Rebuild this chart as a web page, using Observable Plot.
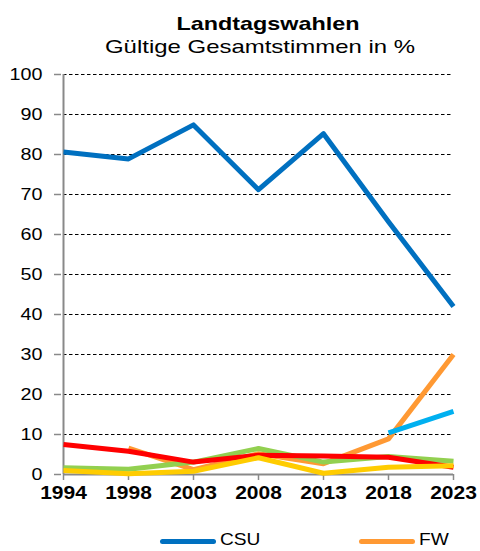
<!DOCTYPE html>
<html><head><meta charset="utf-8">
<script src="https://cdn.jsdelivr.net/npm/d3@7"></script>
<script src="https://cdn.jsdelivr.net/npm/@observablehq/plot@0.6"></script>
<style>
body{margin:0;background:#fff;font-family:"Liberation Sans",Arial,sans-serif;color:#000}
#page{position:relative;width:480px;height:551px;overflow:hidden;background:#fff}
.t{position:absolute;white-space:nowrap;line-height:1}
#chart svg{display:block}
</style></head><body><div id="page">
<div id="head" style="position:relative;height:60px">
<span class="t" style="left:268px;top:14px;font-size:19px;font-weight:bold;transform:translateX(-50%) scaleX(1.23)">Landtagswahlen</span>
<span class="t" style="left:260px;top:36.6px;font-size:19px;transform:translateX(-50%) scaleX(1.26)">Gültige Gesamtstimmen in %</span>
</div>
<div id="chart"></div>
<div id="legend" style="position:relative;height:41px"></div>
</div>
<script>
const years = ["1994", "1998", "2003", "2008", "2013", "2018", "2023"];
const yTicks = [0, 10, 20, 30, 40, 50, 60, 70, 80, 90, 100];
const gridVals = [10, 20, 30, 40, 50, 60, 70, 80, 90, 100];

const csu    = [80.6, 78.9, 87.4, 71.2, 85.2, 63.2, 42.0];
const fw     = [null, 6.6, 1.2, 5.2, 2.7, 8.9, 30.0];
const gruene = [1.7, 1.3, 3.1, 6.5, 3.1, 4.5, 3.3];
const spd    = [7.5, 5.8, 3.1, 4.8, 4.6, 4.3, 1.8];
const fdp    = [1.0, 0.2, 0.8, 4.2, 0.3, 1.8, 2.2];
const afd    = [null, null, null, null, null, 10.4, 15.8];

const partyNames  = ["CSU", "FW", "GRÜNE", "SPD", "FDP", "AfD"];
const partyValues = [csu, fw, gruene, spd, fdp, afd];
const partyColors = ["#0070C0", "#FF9933", "#92D050", "#FF0000", "#FFCC00", "#00B0F0"];

const legendNames = ["CSU", "FW"];

const rows = partyNames.flatMap((p, k) =>
  years.map((y, i) => ({party: p, year: y, value: partyValues[k][i]})).filter(d => d.value != null));

const gray = "#898989";
const chart = Plot.plot({
  width: 480, height: 450,
  marginTop: 14, marginBottom: 36, marginLeft: 61, marginRight: 25,
  style: {fontFamily: "'Liberation Sans', Arial, sans-serif", fontSize: "17px", color: "black", background: "white", overflow: "visible"},
  x: {type: "point", domain: years, padding: 0, label: null},
  y: {domain: [0, 100], label: null},
  color: {domain: partyNames, range: partyColors},
  marks: [
    Plot.ruleY(gridVals, {x1: () => years[0], x2: () => years[years.length - 1], stroke: "black", strokeWidth: 1, strokeDasharray: "3.5,2.5"}),
    Plot.axisY({ticks: yTicks, tickSize: 7, tickPadding: 12, stroke: gray, strokeWidth: 1.5, color: "black", fontSize: 17, label: null}),
    Plot.axisX({tickSize: 6, tickPadding: 6, stroke: gray, strokeWidth: 1.5, color: "black", fontSize: 17.5, fontWeight: "bold", label: null}),
    Plot.ruleX([years[0]], {y1: 0, y2: 100, stroke: gray, strokeWidth: 2}),
    Plot.ruleY([0], {x1: () => years[0], x2: () => years[years.length - 1], stroke: gray, strokeWidth: 2}),
    Plot.line(rows, {x: "year", y: "value", z: "party", stroke: "party", strokeWidth: 5, strokeLinecap: "butt", strokeLinejoin: "round"})
  ]
});
document.getElementById("chart").appendChild(chart);

function stretch(sel, s) {
  chart.querySelectorAll(sel).forEach(t => {
    const tr = t.getAttribute("transform") || "";
    t.setAttribute("transform", `${tr} scale(${s},1)`);
  });
}
stretch('g[aria-label="y-axis tick label"] text', 1.16);
stretch('g[aria-label="x-axis tick label"] text', 1.2);

const legend = document.getElementById("legend");
legendNames.forEach((n, i) => {
  const left = 160 + i * 199;
  const sw = document.createElement("div");
  sw.style.cssText = `position:absolute;left:${left}px;top:28.5px;width:56px;height:5px;border-radius:2.5px;background:${partyColors[partyNames.indexOf(n)]}`;
  legend.appendChild(sw);
  const tx = document.createElement("span");
  tx.className = "t";
  tx.textContent = n;
  tx.style.cssText = `left:${left + 60}px;top:21px;font-size:16.5px;transform-origin:left center;transform:scaleX(1.16)`;
  legend.appendChild(tx);
});
</script>
</body></html>
